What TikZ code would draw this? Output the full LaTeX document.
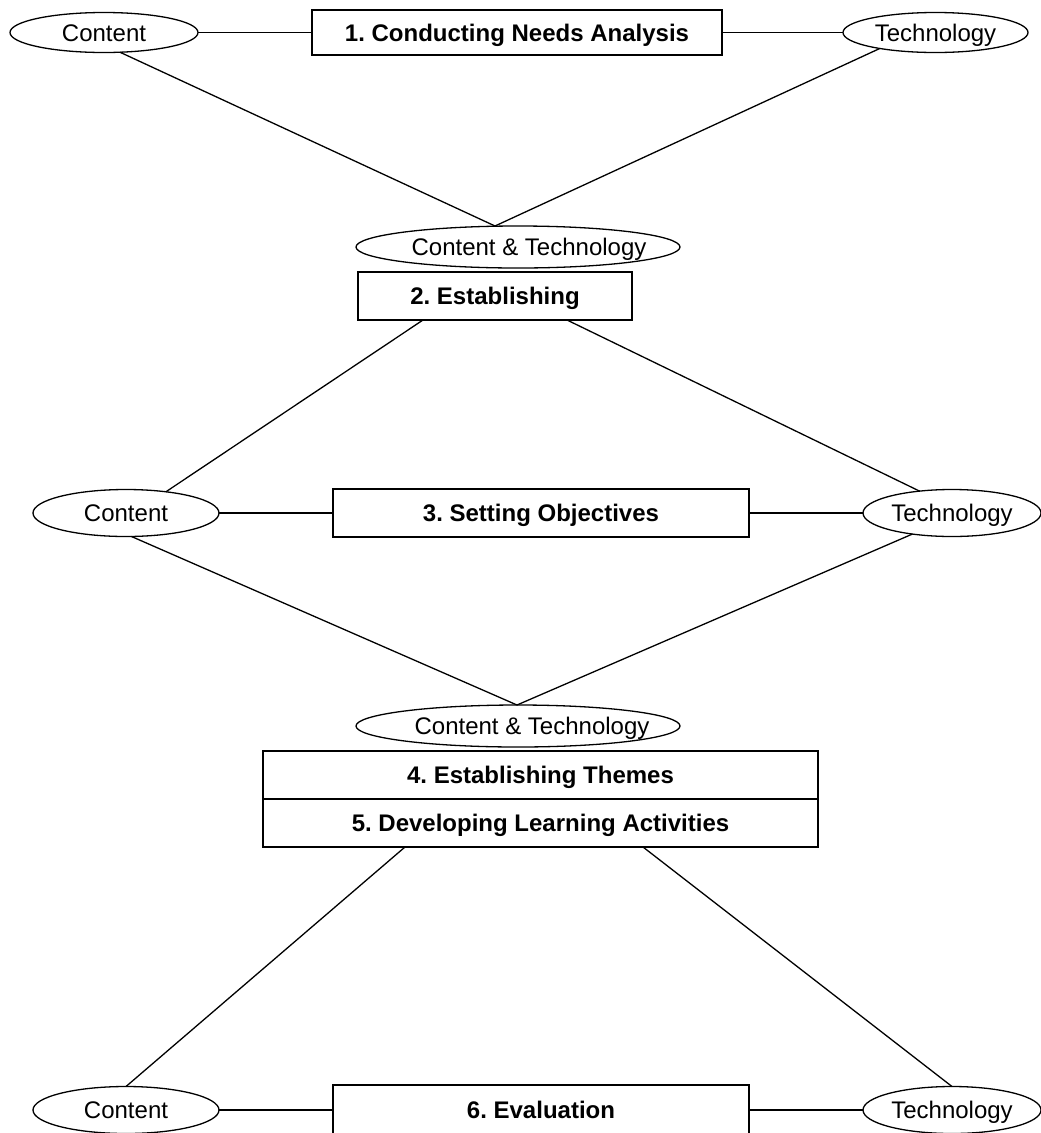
\documentclass[tikz,border=0pt]{standalone}
\usepackage{fontspec}
\setmainfont{Liberation Sans}
\usetikzlibrary{shapes.geometric}
\frenchspacing
\begin{document}
\begin{tikzpicture}[x=1pt,y=-1pt,
  every node/.style={inner sep=0pt, outer sep=0pt, font=\fontsize{24}{28}\selectfont, text height=17.2pt, text depth=0pt},
  oval/.style={draw, ellipse, line width=1.3pt},
  stepbox/.style={draw, rectangle, line width=1.3pt, font=\fontsize{24}{28}\selectfont\bfseries},
  link/.style={line width=1.3pt}]
\useasboundingbox (0,0) rectangle (1041,1133);
\clip (0,0) rectangle (1041,1133);

% Row 1
\node[oval, minimum width=188pt, minimum height=40pt] (c1) at (104,32.5) {\makebox[0pt]{Content}};
\node[stepbox, minimum width=410pt, minimum height=45pt] (b1) at (517,32.5) {1. Conducting Needs Analysis};
\node[oval, minimum width=185pt, minimum height=40pt] (t1) at (935.5,32.5) {\makebox[0pt]{Technology}};

% Step 2
\node[oval, minimum width=324pt, minimum height=42pt] (ct1) at (518,247) {\makebox[0pt]{\hspace*{22pt}Content \& Technology}};
\node[stepbox, minimum width=274pt, minimum height=48pt] (b2) at (495,296) {2. Establishing};

% Row 3
\node[oval, minimum width=186pt, minimum height=47pt] (c3) at (126,513) {\makebox[0pt]{Content}};
\node[stepbox, minimum width=416pt, minimum height=48pt] (b3) at (541,513) {3. Setting Objectives};
\node[oval, minimum width=178pt, minimum height=47pt] (t3) at (952,513) {\makebox[0pt]{Technology}};

% Steps 4 and 5
\node[oval, minimum width=324pt, minimum height=42pt] (ct2) at (518,726) {\makebox[0pt]{\hspace*{28pt}Content \& Technology}};
\node[stepbox, minimum width=555pt, minimum height=48pt] (b4) at (540.5,775) {4. Establishing Themes};
\node[stepbox, minimum width=555pt, minimum height=48pt] (b5) at (540.5,823) {5. Developing Learning Activities};

% Row 6
\node[oval, minimum width=186pt, minimum height=47pt] (c6) at (126,1110) {\makebox[0pt]{Content}};
\node[stepbox, minimum width=416pt, minimum height=50pt] (b6) at (541,1110) {6. Evaluation};
\node[oval, minimum width=178pt, minimum height=47pt] (t6) at (952,1110) {\makebox[0pt]{Technology}};

% apex points
\coordinate (ap1) at ([xshift=-23pt]ct1.north);
\coordinate (ap2) at ([xshift=-1pt]ct2.north);

% connectors
\draw[link] (c1.east) -- (b1.west);
\draw[link] (b1.east) -- (t1.west);
\draw[link] (c1.-51) -- (ap1);
\draw[link] (t1.-164) -- (ap1);

\draw[link] ([xshift=-72pt]b2.south) -- (c3.28);
\draw[link] ([xshift=72pt]b2.south) -- (t3.146);

\draw[link] (c3.east) -- (b3.west);
\draw[link] (b3.east) -- (t3.west);
\draw[link] (c3.-77) -- (ap2);
\draw[link] (t3.-152) -- (ap2);

\draw[link] ([xshift=-135.5pt]b5.south) -- (c6.north);
\draw[link] ([xshift=102.5pt]b5.south) -- (t6.north);

\draw[link] (c6.east) -- (b6.west);
\draw[link] (b6.east) -- (t6.west);
\end{tikzpicture}
\end{document}
